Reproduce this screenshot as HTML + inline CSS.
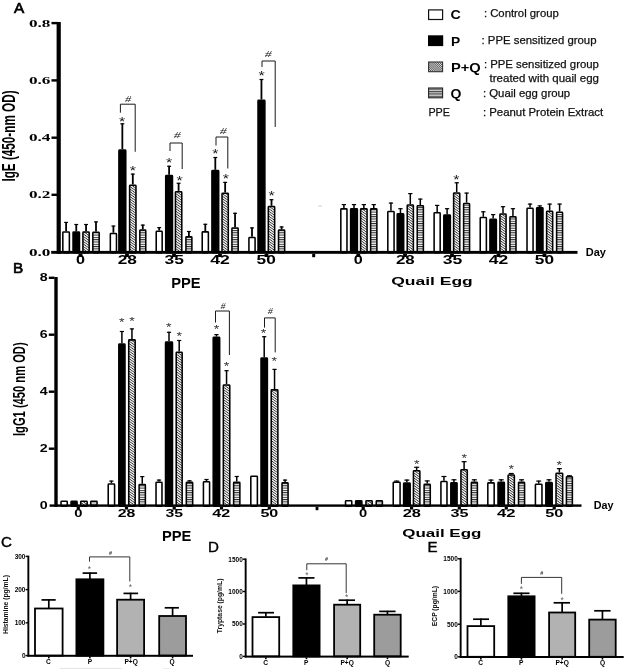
<!DOCTYPE html>
<html><head><meta charset="utf-8"><title>Figure</title>
<style>html,body{margin:0;padding:0;background:#fff}svg{display:block;filter:grayscale(1)}</style></head>
<body>
<svg width="625" height="670" viewBox="0 0 625 670">
<defs>
<pattern id="hd" patternUnits="userSpaceOnUse" width="2.05" height="2.05" patternTransform="rotate(35)">
<rect width="2.05" height="2.05" fill="#fcfcfc"/><rect width="2.05" height="0.82" fill="#303030"/></pattern>
<pattern id="hh" patternUnits="userSpaceOnUse" width="4" height="2.3">
<rect width="4" height="2.3" fill="#fcfcfc"/><rect width="4" height="1.0" fill="#2c2c2c"/></pattern>
<pattern id="hd2" patternUnits="userSpaceOnUse" width="1.5" height="1.5" patternTransform="rotate(45)">
<rect width="1.5" height="1.5" fill="#d8d8d8"/><rect width="1.5" height="0.75" fill="#555"/></pattern>
<pattern id="hh2" patternUnits="userSpaceOnUse" width="4" height="2.4" y="88.6">
<rect width="4" height="2.4" fill="#d0d0d0"/><rect width="4" height="1.1" fill="#444"/></pattern>
</defs>
<rect width="625" height="670" fill="#fff"/>

<text x="14.10" y="12.50" font-family='"Liberation Sans", sans-serif' font-size="15.3" font-weight="normal" text-anchor="start" fill="#000" stroke="#000" stroke-width="0.7">A</text>
<text x="13.00" y="273.00" font-family='"Liberation Sans", sans-serif' font-size="15.3" font-weight="normal" text-anchor="start" fill="#000" stroke="#000" stroke-width="0.7">B</text>
<text x="0.90" y="547.30" font-family='"Liberation Sans", sans-serif' font-size="15.1" font-weight="normal" text-anchor="start" fill="#000" stroke="#000" stroke-width="0.4">C</text>
<text x="207.90" y="551.60" font-family='"Liberation Sans", sans-serif' font-size="15.1" font-weight="normal" text-anchor="start" fill="#000" stroke="#000" stroke-width="0.4">D</text>
<text x="427.40" y="551.60" font-family='"Liberation Sans", sans-serif' font-size="15.1" font-weight="normal" text-anchor="start" fill="#000" stroke="#000" stroke-width="0.4">E</text>
<rect x="428.60" y="9.90" width="14.00" height="9.60" fill="#fff" stroke="#111" stroke-width="1.2"/>
<rect x="428.00" y="35.30" width="15.20" height="10.80" fill="#000"/>
<rect x="428.60" y="62.00" width="14.00" height="9.70" fill="url(#hd2)" stroke="#333" stroke-width="1.1"/>
<rect x="428.60" y="88.00" width="14.00" height="9.80" fill="url(#hh2)" stroke="#222" stroke-width="1.1"/>
<text x="450.60" y="19.30" font-family='"Liberation Sans", sans-serif' font-size="12" font-weight="bold" text-anchor="start" fill="#000" textLength="10.30" lengthAdjust="spacingAndGlyphs" >C</text>
<text x="451.00" y="45.50" font-family='"Liberation Sans", sans-serif' font-size="12" font-weight="bold" text-anchor="start" fill="#000" textLength="9.20" lengthAdjust="spacingAndGlyphs" >P</text>
<text x="451.00" y="71.70" font-family='"Liberation Sans", sans-serif' font-size="12" font-weight="bold" text-anchor="start" fill="#000" textLength="29.80" lengthAdjust="spacingAndGlyphs" >P+Q</text>
<text x="450.60" y="97.50" font-family='"Liberation Sans", sans-serif' font-size="12" font-weight="bold" text-anchor="start" fill="#000" textLength="10.90" lengthAdjust="spacingAndGlyphs" >Q</text>
<text x="428.40" y="115.80" font-family='"Liberation Sans", sans-serif' font-size="11" font-weight="normal" text-anchor="start" fill="#111" textLength="21.60" lengthAdjust="spacingAndGlyphs" stroke="#111" stroke-width="0.25">PPE</text>
<text x="483.90" y="16.80" font-family='"Liberation Sans", sans-serif' font-size="11" font-weight="normal" text-anchor="start" fill="#111" textLength="74.90" lengthAdjust="spacingAndGlyphs" stroke="#111" stroke-width="0.25">: Control group</text>
<text x="481.50" y="43.60" font-family='"Liberation Sans", sans-serif' font-size="11" font-weight="normal" text-anchor="start" fill="#111" textLength="115.00" lengthAdjust="spacingAndGlyphs" stroke="#111" stroke-width="0.25">: PPE sensitized group</text>
<text x="483.90" y="68.40" font-family='"Liberation Sans", sans-serif' font-size="11" font-weight="normal" text-anchor="start" fill="#111" textLength="115.00" lengthAdjust="spacingAndGlyphs" stroke="#111" stroke-width="0.25">: PPE sensitized group</text>
<text x="489.60" y="82.40" font-family='"Liberation Sans", sans-serif' font-size="11" font-weight="normal" text-anchor="start" fill="#111" textLength="109.40" lengthAdjust="spacingAndGlyphs" stroke="#111" stroke-width="0.25">treated with quail egg</text>
<text x="482.90" y="96.80" font-family='"Liberation Sans", sans-serif' font-size="11" font-weight="normal" text-anchor="start" fill="#111" textLength="87.30" lengthAdjust="spacingAndGlyphs" stroke="#111" stroke-width="0.25">: Quail egg group</text>
<text x="482.90" y="115.80" font-family='"Liberation Sans", sans-serif' font-size="11" font-weight="normal" text-anchor="start" fill="#111" textLength="120.30" lengthAdjust="spacingAndGlyphs" stroke="#111" stroke-width="0.25">: Peanut Protein Extract</text>
<line x1="66.10" y1="221.90" x2="66.10" y2="231.30" stroke="#000" stroke-width="1.8"/>
<line x1="64.15" y1="222.40" x2="68.05" y2="222.40" stroke="#000" stroke-width="1.2"/>
<rect x="62.83" y="232.08" width="6.55" height="20.62" rx="0.7" fill="#fff" stroke="#000" stroke-width="1.55"/>
<line x1="76.25" y1="224.00" x2="76.25" y2="231.30" stroke="#000" stroke-width="1.8"/>
<line x1="74.30" y1="224.50" x2="78.20" y2="224.50" stroke="#000" stroke-width="1.2"/>
<rect x="73.03" y="232.08" width="6.45" height="20.62" rx="0.7" fill="#000" stroke="#000" stroke-width="1.55"/>
<line x1="86.05" y1="224.00" x2="86.05" y2="231.30" stroke="#000" stroke-width="1.8"/>
<line x1="84.10" y1="224.50" x2="88.00" y2="224.50" stroke="#000" stroke-width="1.2"/>
<rect x="82.92" y="232.08" width="6.25" height="20.62" rx="0.7" fill="url(#hd)" stroke="#000" stroke-width="1.55"/>
<line x1="96.00" y1="221.40" x2="96.00" y2="231.50" stroke="#000" stroke-width="1.8"/>
<line x1="94.05" y1="221.90" x2="97.95" y2="221.90" stroke="#000" stroke-width="1.2"/>
<rect x="92.83" y="232.28" width="6.35" height="20.42" rx="0.7" fill="url(#hh)" stroke="#000" stroke-width="1.55"/>
<line x1="113.40" y1="225.60" x2="113.40" y2="232.70" stroke="#000" stroke-width="1.8"/>
<line x1="111.45" y1="226.10" x2="115.35" y2="226.10" stroke="#000" stroke-width="1.2"/>
<rect x="110.33" y="233.47" width="6.15" height="19.23" rx="0.7" fill="#fff" stroke="#000" stroke-width="1.55"/>
<line x1="122.35" y1="123.30" x2="122.35" y2="149.30" stroke="#000" stroke-width="1.8"/>
<line x1="120.40" y1="123.80" x2="124.30" y2="123.80" stroke="#000" stroke-width="1.2"/>
<rect x="118.92" y="150.08" width="6.85" height="102.62" rx="0.7" fill="#000" stroke="#000" stroke-width="1.55"/>
<line x1="132.80" y1="173.60" x2="132.80" y2="184.50" stroke="#000" stroke-width="1.8"/>
<line x1="130.85" y1="174.10" x2="134.75" y2="174.10" stroke="#000" stroke-width="1.2"/>
<rect x="129.62" y="185.28" width="6.35" height="67.42" rx="0.7" fill="url(#hd)" stroke="#000" stroke-width="1.55"/>
<line x1="142.80" y1="224.60" x2="142.80" y2="229.30" stroke="#000" stroke-width="1.8"/>
<line x1="140.85" y1="225.10" x2="144.75" y2="225.10" stroke="#000" stroke-width="1.2"/>
<rect x="139.82" y="230.08" width="5.95" height="22.62" rx="0.7" fill="url(#hh)" stroke="#000" stroke-width="1.55"/>
<line x1="159.20" y1="227.10" x2="159.20" y2="230.50" stroke="#000" stroke-width="1.8"/>
<line x1="157.25" y1="227.60" x2="161.15" y2="227.60" stroke="#000" stroke-width="1.2"/>
<rect x="156.22" y="231.28" width="5.95" height="21.42" rx="0.7" fill="#fff" stroke="#000" stroke-width="1.55"/>
<line x1="169.10" y1="165.80" x2="169.10" y2="174.70" stroke="#000" stroke-width="1.8"/>
<line x1="167.15" y1="166.30" x2="171.05" y2="166.30" stroke="#000" stroke-width="1.2"/>
<rect x="165.72" y="175.47" width="6.75" height="77.22" rx="0.7" fill="#000" stroke="#000" stroke-width="1.55"/>
<line x1="178.60" y1="182.80" x2="178.60" y2="190.90" stroke="#000" stroke-width="1.8"/>
<line x1="176.65" y1="183.30" x2="180.55" y2="183.30" stroke="#000" stroke-width="1.2"/>
<rect x="175.43" y="191.68" width="6.35" height="61.02" rx="0.7" fill="url(#hd)" stroke="#000" stroke-width="1.55"/>
<line x1="188.90" y1="231.00" x2="188.90" y2="236.00" stroke="#000" stroke-width="1.8"/>
<line x1="186.95" y1="231.50" x2="190.85" y2="231.50" stroke="#000" stroke-width="1.2"/>
<rect x="185.93" y="236.78" width="5.95" height="15.92" rx="0.7" fill="url(#hh)" stroke="#000" stroke-width="1.55"/>
<line x1="205.30" y1="223.80" x2="205.30" y2="231.10" stroke="#000" stroke-width="1.8"/>
<line x1="203.35" y1="224.30" x2="207.25" y2="224.30" stroke="#000" stroke-width="1.2"/>
<rect x="202.22" y="231.88" width="6.15" height="20.82" rx="0.7" fill="#fff" stroke="#000" stroke-width="1.55"/>
<line x1="215.30" y1="157.00" x2="215.30" y2="169.80" stroke="#000" stroke-width="1.8"/>
<line x1="213.35" y1="157.50" x2="217.25" y2="157.50" stroke="#000" stroke-width="1.2"/>
<rect x="211.93" y="170.58" width="6.75" height="82.12" rx="0.7" fill="#000" stroke="#000" stroke-width="1.55"/>
<line x1="225.15" y1="181.90" x2="225.15" y2="192.50" stroke="#000" stroke-width="1.8"/>
<line x1="223.20" y1="182.40" x2="227.10" y2="182.40" stroke="#000" stroke-width="1.2"/>
<rect x="222.03" y="193.28" width="6.25" height="59.42" rx="0.7" fill="url(#hd)" stroke="#000" stroke-width="1.55"/>
<line x1="235.05" y1="212.80" x2="235.05" y2="227.30" stroke="#000" stroke-width="1.8"/>
<line x1="233.10" y1="213.30" x2="237.00" y2="213.30" stroke="#000" stroke-width="1.2"/>
<rect x="231.93" y="228.08" width="6.25" height="24.62" rx="0.7" fill="url(#hh)" stroke="#000" stroke-width="1.55"/>
<line x1="252.00" y1="227.40" x2="252.00" y2="236.80" stroke="#000" stroke-width="1.8"/>
<line x1="250.05" y1="227.90" x2="253.95" y2="227.90" stroke="#000" stroke-width="1.2"/>
<rect x="248.93" y="237.58" width="6.15" height="15.12" rx="0.7" fill="#fff" stroke="#000" stroke-width="1.55"/>
<line x1="261.45" y1="79.00" x2="261.45" y2="99.50" stroke="#000" stroke-width="1.8"/>
<line x1="259.50" y1="79.50" x2="263.40" y2="79.50" stroke="#000" stroke-width="1.2"/>
<rect x="258.02" y="100.28" width="6.85" height="152.42" rx="0.7" fill="#000" stroke="#000" stroke-width="1.55"/>
<line x1="271.50" y1="199.20" x2="271.50" y2="205.80" stroke="#000" stroke-width="1.8"/>
<line x1="269.55" y1="199.70" x2="273.45" y2="199.70" stroke="#000" stroke-width="1.2"/>
<rect x="268.32" y="206.58" width="6.35" height="46.12" rx="0.7" fill="url(#hd)" stroke="#000" stroke-width="1.55"/>
<line x1="281.60" y1="226.40" x2="281.60" y2="229.30" stroke="#000" stroke-width="1.8"/>
<line x1="279.65" y1="226.90" x2="283.55" y2="226.90" stroke="#000" stroke-width="1.2"/>
<rect x="278.52" y="230.08" width="6.15" height="22.62" rx="0.7" fill="url(#hh)" stroke="#000" stroke-width="1.55"/>
<line x1="343.90" y1="204.10" x2="343.90" y2="208.10" stroke="#000" stroke-width="1.5"/>
<line x1="341.75" y1="204.60" x2="346.05" y2="204.60" stroke="#000" stroke-width="1.2"/>
<rect x="340.82" y="208.88" width="6.15" height="43.82" rx="0.7" fill="#fff" stroke="#000" stroke-width="1.55"/>
<line x1="354.00" y1="204.10" x2="354.00" y2="208.10" stroke="#000" stroke-width="1.5"/>
<line x1="351.85" y1="204.60" x2="356.15" y2="204.60" stroke="#000" stroke-width="1.2"/>
<rect x="350.62" y="208.88" width="6.75" height="43.82" rx="0.7" fill="#000" stroke="#000" stroke-width="1.55"/>
<line x1="363.85" y1="204.10" x2="363.85" y2="208.10" stroke="#000" stroke-width="1.5"/>
<line x1="361.70" y1="204.60" x2="366.00" y2="204.60" stroke="#000" stroke-width="1.2"/>
<rect x="360.62" y="208.88" width="6.45" height="43.82" rx="0.7" fill="url(#hd)" stroke="#000" stroke-width="1.55"/>
<line x1="373.75" y1="204.10" x2="373.75" y2="208.10" stroke="#000" stroke-width="1.5"/>
<line x1="371.60" y1="204.60" x2="375.90" y2="204.60" stroke="#000" stroke-width="1.2"/>
<rect x="370.62" y="208.88" width="6.25" height="43.82" rx="0.7" fill="url(#hh)" stroke="#000" stroke-width="1.55"/>
<line x1="390.95" y1="202.60" x2="390.95" y2="210.70" stroke="#000" stroke-width="1.5"/>
<line x1="388.80" y1="203.10" x2="393.10" y2="203.10" stroke="#000" stroke-width="1.2"/>
<rect x="387.82" y="211.47" width="6.25" height="41.23" rx="0.7" fill="#fff" stroke="#000" stroke-width="1.55"/>
<line x1="400.45" y1="208.20" x2="400.45" y2="213.00" stroke="#000" stroke-width="1.5"/>
<line x1="398.30" y1="208.70" x2="402.60" y2="208.70" stroke="#000" stroke-width="1.2"/>
<rect x="397.23" y="213.78" width="6.45" height="38.92" rx="0.7" fill="#000" stroke="#000" stroke-width="1.55"/>
<line x1="410.30" y1="193.10" x2="410.30" y2="204.30" stroke="#000" stroke-width="1.5"/>
<line x1="408.15" y1="193.60" x2="412.45" y2="193.60" stroke="#000" stroke-width="1.2"/>
<rect x="407.23" y="205.08" width="6.15" height="47.62" rx="0.7" fill="url(#hd)" stroke="#000" stroke-width="1.55"/>
<line x1="420.30" y1="198.60" x2="420.30" y2="205.00" stroke="#000" stroke-width="1.5"/>
<line x1="418.15" y1="199.10" x2="422.45" y2="199.10" stroke="#000" stroke-width="1.2"/>
<rect x="417.23" y="205.78" width="6.15" height="46.92" rx="0.7" fill="url(#hh)" stroke="#000" stroke-width="1.55"/>
<line x1="437.15" y1="204.90" x2="437.15" y2="211.90" stroke="#000" stroke-width="1.5"/>
<line x1="435.00" y1="205.40" x2="439.30" y2="205.40" stroke="#000" stroke-width="1.2"/>
<rect x="434.12" y="212.68" width="6.05" height="40.02" rx="0.7" fill="#fff" stroke="#000" stroke-width="1.55"/>
<line x1="447.10" y1="208.20" x2="447.10" y2="214.20" stroke="#000" stroke-width="1.5"/>
<line x1="444.95" y1="208.70" x2="449.25" y2="208.70" stroke="#000" stroke-width="1.2"/>
<rect x="443.82" y="214.97" width="6.55" height="37.73" rx="0.7" fill="#000" stroke="#000" stroke-width="1.55"/>
<line x1="456.70" y1="182.30" x2="456.70" y2="192.20" stroke="#000" stroke-width="1.5"/>
<line x1="454.55" y1="182.80" x2="458.85" y2="182.80" stroke="#000" stroke-width="1.2"/>
<rect x="453.62" y="192.97" width="6.15" height="59.73" rx="0.7" fill="url(#hd)" stroke="#000" stroke-width="1.55"/>
<line x1="466.60" y1="192.60" x2="466.60" y2="202.70" stroke="#000" stroke-width="1.5"/>
<line x1="464.45" y1="193.10" x2="468.75" y2="193.10" stroke="#000" stroke-width="1.2"/>
<rect x="463.62" y="203.47" width="5.95" height="49.23" rx="0.7" fill="url(#hh)" stroke="#000" stroke-width="1.55"/>
<line x1="483.30" y1="211.30" x2="483.30" y2="216.80" stroke="#000" stroke-width="1.5"/>
<line x1="481.15" y1="211.80" x2="485.45" y2="211.80" stroke="#000" stroke-width="1.2"/>
<rect x="480.23" y="217.58" width="6.15" height="35.12" rx="0.7" fill="#fff" stroke="#000" stroke-width="1.55"/>
<line x1="493.15" y1="214.10" x2="493.15" y2="218.50" stroke="#000" stroke-width="1.5"/>
<line x1="491.00" y1="214.60" x2="495.30" y2="214.60" stroke="#000" stroke-width="1.2"/>
<rect x="489.93" y="219.28" width="6.45" height="33.42" rx="0.7" fill="#000" stroke="#000" stroke-width="1.55"/>
<line x1="503.00" y1="206.20" x2="503.00" y2="213.20" stroke="#000" stroke-width="1.5"/>
<line x1="500.85" y1="206.70" x2="505.15" y2="206.70" stroke="#000" stroke-width="1.2"/>
<rect x="499.93" y="213.97" width="6.15" height="38.73" rx="0.7" fill="url(#hd)" stroke="#000" stroke-width="1.55"/>
<line x1="512.95" y1="208.20" x2="512.95" y2="216.00" stroke="#000" stroke-width="1.5"/>
<line x1="510.80" y1="208.70" x2="515.10" y2="208.70" stroke="#000" stroke-width="1.2"/>
<rect x="509.93" y="216.78" width="6.05" height="35.92" rx="0.7" fill="url(#hh)" stroke="#000" stroke-width="1.55"/>
<line x1="530.05" y1="203.60" x2="530.05" y2="207.50" stroke="#000" stroke-width="1.5"/>
<line x1="527.90" y1="204.10" x2="532.20" y2="204.10" stroke="#000" stroke-width="1.2"/>
<rect x="527.02" y="208.28" width="6.05" height="44.42" rx="0.7" fill="#fff" stroke="#000" stroke-width="1.55"/>
<line x1="539.80" y1="205.40" x2="539.80" y2="207.10" stroke="#000" stroke-width="1.5"/>
<line x1="537.65" y1="205.90" x2="541.95" y2="205.90" stroke="#000" stroke-width="1.2"/>
<rect x="536.62" y="207.88" width="6.35" height="44.82" rx="0.7" fill="#000" stroke="#000" stroke-width="1.55"/>
<line x1="549.65" y1="203.60" x2="549.65" y2="210.50" stroke="#000" stroke-width="1.5"/>
<line x1="547.50" y1="204.10" x2="551.80" y2="204.10" stroke="#000" stroke-width="1.2"/>
<rect x="546.62" y="211.28" width="6.05" height="41.42" rx="0.7" fill="url(#hd)" stroke="#000" stroke-width="1.55"/>
<line x1="559.60" y1="203.60" x2="559.60" y2="211.50" stroke="#000" stroke-width="1.5"/>
<line x1="557.45" y1="204.10" x2="561.75" y2="204.10" stroke="#000" stroke-width="1.2"/>
<rect x="556.62" y="212.28" width="5.95" height="40.42" rx="0.7" fill="url(#hh)" stroke="#000" stroke-width="1.55"/>
<rect x="56.60" y="22.00" width="4.20" height="231.80" fill="#000"/>
<rect x="51.20" y="250.90" width="526.30" height="2.90" fill="#000"/>
<rect x="51.50" y="21.90" width="6.00" height="2.40" fill="#000"/>
<rect x="51.50" y="79.20" width="6.00" height="2.40" fill="#000"/>
<rect x="51.50" y="136.50" width="6.00" height="2.40" fill="#000"/>
<rect x="51.50" y="193.60" width="6.00" height="2.40" fill="#000"/>
<text x="28.90" y="26.70" font-family='"Liberation Serif", serif' font-size="11" font-weight="bold" text-anchor="start" fill="#000" textLength="21.50" lengthAdjust="spacingAndGlyphs" >0.8</text>
<text x="28.90" y="84.00" font-family='"Liberation Serif", serif' font-size="11" font-weight="bold" text-anchor="start" fill="#000" textLength="21.50" lengthAdjust="spacingAndGlyphs" >0.6</text>
<text x="28.90" y="141.30" font-family='"Liberation Serif", serif' font-size="11" font-weight="bold" text-anchor="start" fill="#000" textLength="21.50" lengthAdjust="spacingAndGlyphs" >0.4</text>
<text x="28.90" y="198.40" font-family='"Liberation Serif", serif' font-size="11" font-weight="bold" text-anchor="start" fill="#000" textLength="21.50" lengthAdjust="spacingAndGlyphs" >0.2</text>
<text x="28.90" y="255.60" font-family='"Liberation Serif", serif' font-size="11" font-weight="bold" text-anchor="start" fill="#000" textLength="21.50" lengthAdjust="spacingAndGlyphs" >0.0</text>
<rect x="78.60" y="253.50" width="3.80" height="3.50" fill="#000"/>
<rect x="125.10" y="253.50" width="3.80" height="3.50" fill="#000"/>
<rect x="172.10" y="253.50" width="3.80" height="3.50" fill="#000"/>
<rect x="218.10" y="253.50" width="3.80" height="3.50" fill="#000"/>
<rect x="264.60" y="253.50" width="3.80" height="3.50" fill="#000"/>
<rect x="356.40" y="253.50" width="3.80" height="3.50" fill="#000"/>
<rect x="403.10" y="253.50" width="3.80" height="3.50" fill="#000"/>
<rect x="450.10" y="253.50" width="3.80" height="3.50" fill="#000"/>
<rect x="496.60" y="253.50" width="3.80" height="3.50" fill="#000"/>
<rect x="542.60" y="253.50" width="3.80" height="3.50" fill="#000"/>
<rect x="312.20" y="253.80" width="3.00" height="3.40" fill="#000"/>
<text x="76.10" y="264.30" font-family='"Liberation Sans", sans-serif' font-size="11.9" font-weight="bold" text-anchor="start" fill="#000" textLength="9.00" lengthAdjust="spacingAndGlyphs" >0</text>
<text x="117.70" y="264.30" font-family='"Liberation Sans", sans-serif' font-size="11.9" font-weight="bold" text-anchor="start" fill="#000" textLength="19.20" lengthAdjust="spacingAndGlyphs" >28</text>
<text x="164.50" y="264.30" font-family='"Liberation Sans", sans-serif' font-size="11.9" font-weight="bold" text-anchor="start" fill="#000" textLength="19.40" lengthAdjust="spacingAndGlyphs" >35</text>
<text x="210.20" y="264.30" font-family='"Liberation Sans", sans-serif' font-size="11.9" font-weight="bold" text-anchor="start" fill="#000" textLength="19.60" lengthAdjust="spacingAndGlyphs" >42</text>
<text x="256.60" y="264.30" font-family='"Liberation Sans", sans-serif' font-size="11.9" font-weight="bold" text-anchor="start" fill="#000" textLength="19.20" lengthAdjust="spacingAndGlyphs" >50</text>
<text x="353.80" y="264.30" font-family='"Liberation Sans", sans-serif' font-size="11.9" font-weight="bold" text-anchor="start" fill="#000" textLength="9.00" lengthAdjust="spacingAndGlyphs" >0</text>
<text x="395.90" y="264.30" font-family='"Liberation Sans", sans-serif' font-size="11.9" font-weight="bold" text-anchor="start" fill="#000" textLength="18.80" lengthAdjust="spacingAndGlyphs" >28</text>
<text x="442.70" y="264.30" font-family='"Liberation Sans", sans-serif' font-size="11.9" font-weight="bold" text-anchor="start" fill="#000" textLength="19.60" lengthAdjust="spacingAndGlyphs" >35</text>
<text x="488.80" y="264.30" font-family='"Liberation Sans", sans-serif' font-size="11.9" font-weight="bold" text-anchor="start" fill="#000" textLength="19.40" lengthAdjust="spacingAndGlyphs" >42</text>
<text x="534.80" y="264.30" font-family='"Liberation Sans", sans-serif' font-size="11.9" font-weight="bold" text-anchor="start" fill="#000" textLength="19.20" lengthAdjust="spacingAndGlyphs" >50</text>
<text x="171.20" y="288.30" font-family='"Liberation Sans", sans-serif' font-size="14.2" font-weight="bold" text-anchor="start" fill="#000" textLength="29.40" lengthAdjust="spacingAndGlyphs" >PPE</text>
<text x="391.20" y="285.00" font-family='"Liberation Sans", sans-serif' font-size="11.8" font-weight="bold" text-anchor="start" fill="#000" textLength="81.60" lengthAdjust="spacingAndGlyphs" >Quail Egg</text>
<text x="585.80" y="255.80" font-family='"Liberation Sans", sans-serif' font-size="10.8" font-weight="bold" text-anchor="start" fill="#000" textLength="20.20" lengthAdjust="spacingAndGlyphs" >Day</text>
<text transform="translate(14.90,181.60) rotate(-90)" font-family='"Liberation Sans", sans-serif' font-size="17.5" font-weight="bold" fill="#000" textLength="91.20" lengthAdjust="spacingAndGlyphs">IgE (450-nm OD)</text>
<text transform="translate(122.20,118.90) scale(1.14,0.88)" y="0.53" font-family='"Liberation Sans", sans-serif' font-size="14" text-anchor="middle" fill="#1a1a1a" dy="7.00">*</text>
<text transform="translate(132.80,168.10) scale(1.14,0.88)" y="0.53" font-family='"Liberation Sans", sans-serif' font-size="14" text-anchor="middle" fill="#1a1a1a" dy="7.00">*</text>
<polyline points="120.40,112.70 120.40,104.20 135.20,104.20 135.20,151.80" fill="none" stroke="#1a1a1a" stroke-width="1.0"/>
<text transform="translate(128.00,102.17) scale(1.5,1)" font-family='"Liberation Serif", serif' font-size="8.2" font-style="italic" text-anchor="middle" fill="#1a1a1a">#</text>
<text transform="translate(169.20,160.50) scale(1.14,0.88)" y="0.53" font-family='"Liberation Sans", sans-serif' font-size="14" text-anchor="middle" fill="#1a1a1a" dy="7.00">*</text>
<text transform="translate(179.60,177.90) scale(1.14,0.88)" y="0.53" font-family='"Liberation Sans", sans-serif' font-size="14" text-anchor="middle" fill="#1a1a1a" dy="7.00">*</text>
<polyline points="170.00,151.00 170.00,143.00 182.20,143.00 182.20,169.00" fill="none" stroke="#1a1a1a" stroke-width="1.0"/>
<text transform="translate(177.20,138.29) scale(1.5,1)" font-family='"Liberation Serif", serif' font-size="9.2" font-style="italic" text-anchor="middle" fill="#1a1a1a">#</text>
<text transform="translate(215.40,151.10) scale(1.14,0.88)" y="0.53" font-family='"Liberation Sans", sans-serif' font-size="14" text-anchor="middle" fill="#1a1a1a" dy="7.00">*</text>
<text transform="translate(225.80,176.70) scale(1.14,0.88)" y="0.53" font-family='"Liberation Sans", sans-serif' font-size="14" text-anchor="middle" fill="#1a1a1a" dy="7.00">*</text>
<polyline points="216.00,145.50 216.00,137.00 227.80,137.00 227.80,168.50" fill="none" stroke="#1a1a1a" stroke-width="1.0"/>
<text transform="translate(223.20,134.49) scale(1.5,1)" font-family='"Liberation Serif", serif' font-size="9.2" font-style="italic" text-anchor="middle" fill="#1a1a1a">#</text>
<text transform="translate(261.60,73.30) scale(1.14,0.88)" y="0.53" font-family='"Liberation Sans", sans-serif' font-size="14" text-anchor="middle" fill="#1a1a1a" dy="7.00">*</text>
<text transform="translate(271.50,193.10) scale(1.14,0.88)" y="0.53" font-family='"Liberation Sans", sans-serif' font-size="14" text-anchor="middle" fill="#1a1a1a" dy="7.00">*</text>
<polyline points="262.00,67.00 262.00,61.00 275.20,61.00 275.20,127.00" fill="none" stroke="#1a1a1a" stroke-width="1.0"/>
<text transform="translate(268.30,56.89) scale(1.5,1)" font-family='"Liberation Serif", serif' font-size="9.2" font-style="italic" text-anchor="middle" fill="#1a1a1a">#</text>
<text transform="translate(456.40,177.50) scale(1.14,0.88)" y="0.53" font-family='"Liberation Sans", sans-serif' font-size="14" text-anchor="middle" fill="#1a1a1a" dy="7.00">*</text>
<rect x="318.50" y="205.60" width="3.50" height="0.80" fill="#bbb"/>
<rect x="61.02" y="501.27" width="6.25" height="5.03" rx="0.7" fill="#fff" stroke="#000" stroke-width="1.55"/>
<rect x="71.03" y="501.27" width="6.05" height="5.03" rx="0.7" fill="#000" stroke="#000" stroke-width="1.55"/>
<rect x="80.72" y="501.27" width="6.45" height="5.03" rx="0.7" fill="url(#hd)" stroke="#000" stroke-width="1.55"/>
<rect x="90.72" y="501.27" width="6.35" height="5.03" rx="0.7" fill="url(#hh)" stroke="#000" stroke-width="1.55"/>
<line x1="111.40" y1="480.60" x2="111.40" y2="483.20" stroke="#000" stroke-width="1.5"/>
<line x1="109.30" y1="481.10" x2="113.50" y2="481.10" stroke="#000" stroke-width="1.2"/>
<rect x="108.22" y="483.97" width="6.35" height="22.33" rx="0.7" fill="#fff" stroke="#000" stroke-width="1.55"/>
<line x1="121.90" y1="331.00" x2="121.90" y2="343.20" stroke="#000" stroke-width="1.5"/>
<line x1="119.80" y1="331.50" x2="124.00" y2="331.50" stroke="#000" stroke-width="1.2"/>
<rect x="118.83" y="343.97" width="6.15" height="162.33" rx="0.7" fill="#000" stroke="#000" stroke-width="1.55"/>
<line x1="131.95" y1="328.40" x2="131.95" y2="339.10" stroke="#000" stroke-width="1.5"/>
<line x1="129.85" y1="328.90" x2="134.05" y2="328.90" stroke="#000" stroke-width="1.2"/>
<rect x="128.72" y="339.88" width="6.45" height="166.42" rx="0.7" fill="url(#hd)" stroke="#000" stroke-width="1.55"/>
<line x1="142.25" y1="476.10" x2="142.25" y2="483.70" stroke="#000" stroke-width="1.5"/>
<line x1="140.15" y1="476.60" x2="144.35" y2="476.60" stroke="#000" stroke-width="1.2"/>
<rect x="139.12" y="484.47" width="6.25" height="21.83" rx="0.7" fill="url(#hh)" stroke="#000" stroke-width="1.55"/>
<line x1="159.00" y1="479.60" x2="159.00" y2="481.50" stroke="#000" stroke-width="1.5"/>
<line x1="156.90" y1="480.10" x2="161.10" y2="480.10" stroke="#000" stroke-width="1.2"/>
<rect x="156.03" y="482.27" width="5.95" height="24.03" rx="0.7" fill="#fff" stroke="#000" stroke-width="1.55"/>
<line x1="169.00" y1="331.80" x2="169.00" y2="341.20" stroke="#000" stroke-width="1.5"/>
<line x1="166.90" y1="332.30" x2="171.10" y2="332.30" stroke="#000" stroke-width="1.2"/>
<rect x="165.53" y="341.97" width="6.95" height="164.33" rx="0.7" fill="#000" stroke="#000" stroke-width="1.55"/>
<line x1="179.20" y1="340.00" x2="179.20" y2="351.40" stroke="#000" stroke-width="1.5"/>
<line x1="177.10" y1="340.50" x2="181.30" y2="340.50" stroke="#000" stroke-width="1.2"/>
<rect x="176.22" y="352.17" width="5.95" height="154.13" rx="0.7" fill="url(#hd)" stroke="#000" stroke-width="1.55"/>
<line x1="189.50" y1="480.30" x2="189.50" y2="481.50" stroke="#000" stroke-width="1.5"/>
<line x1="187.40" y1="480.80" x2="191.60" y2="480.80" stroke="#000" stroke-width="1.2"/>
<rect x="186.32" y="482.27" width="6.35" height="24.03" rx="0.7" fill="url(#hh)" stroke="#000" stroke-width="1.55"/>
<line x1="206.50" y1="479.00" x2="206.50" y2="481.00" stroke="#000" stroke-width="1.5"/>
<line x1="204.40" y1="479.50" x2="208.60" y2="479.50" stroke="#000" stroke-width="1.2"/>
<rect x="203.43" y="481.77" width="6.15" height="24.53" rx="0.7" fill="#fff" stroke="#000" stroke-width="1.55"/>
<line x1="216.45" y1="334.10" x2="216.45" y2="336.50" stroke="#000" stroke-width="1.5"/>
<line x1="214.35" y1="334.60" x2="218.55" y2="334.60" stroke="#000" stroke-width="1.2"/>
<rect x="213.22" y="337.27" width="6.45" height="169.03" rx="0.7" fill="#000" stroke="#000" stroke-width="1.55"/>
<line x1="226.55" y1="370.20" x2="226.55" y2="384.20" stroke="#000" stroke-width="1.5"/>
<line x1="224.45" y1="370.70" x2="228.65" y2="370.70" stroke="#000" stroke-width="1.2"/>
<rect x="223.32" y="384.97" width="6.45" height="121.33" rx="0.7" fill="url(#hd)" stroke="#000" stroke-width="1.55"/>
<line x1="236.75" y1="476.00" x2="236.75" y2="481.50" stroke="#000" stroke-width="1.5"/>
<line x1="234.65" y1="476.50" x2="238.85" y2="476.50" stroke="#000" stroke-width="1.2"/>
<rect x="233.62" y="482.27" width="6.25" height="24.03" rx="0.7" fill="url(#hh)" stroke="#000" stroke-width="1.55"/>
<rect x="250.82" y="476.27" width="6.55" height="30.03" rx="0.7" fill="#fff" stroke="#000" stroke-width="1.55"/>
<line x1="264.20" y1="336.20" x2="264.20" y2="357.30" stroke="#000" stroke-width="1.5"/>
<line x1="262.10" y1="336.70" x2="266.30" y2="336.70" stroke="#000" stroke-width="1.2"/>
<rect x="261.02" y="358.07" width="6.35" height="148.22" rx="0.7" fill="#000" stroke="#000" stroke-width="1.55"/>
<line x1="274.55" y1="368.90" x2="274.55" y2="389.10" stroke="#000" stroke-width="1.5"/>
<line x1="272.45" y1="369.40" x2="276.65" y2="369.40" stroke="#000" stroke-width="1.2"/>
<rect x="271.23" y="389.88" width="6.65" height="116.42" rx="0.7" fill="url(#hd)" stroke="#000" stroke-width="1.55"/>
<line x1="285.05" y1="479.60" x2="285.05" y2="482.00" stroke="#000" stroke-width="1.5"/>
<line x1="282.95" y1="480.10" x2="287.15" y2="480.10" stroke="#000" stroke-width="1.2"/>
<rect x="282.02" y="482.77" width="6.05" height="23.53" rx="0.7" fill="url(#hh)" stroke="#000" stroke-width="1.55"/>
<rect x="345.52" y="500.77" width="6.25" height="5.53" rx="0.7" fill="#fff" stroke="#000" stroke-width="1.55"/>
<rect x="355.62" y="500.77" width="6.25" height="5.53" rx="0.7" fill="#000" stroke="#000" stroke-width="1.55"/>
<rect x="365.93" y="500.77" width="6.25" height="5.53" rx="0.7" fill="url(#hd)" stroke="#000" stroke-width="1.55"/>
<rect x="376.23" y="500.77" width="6.15" height="5.53" rx="0.7" fill="url(#hh)" stroke="#000" stroke-width="1.55"/>
<line x1="396.65" y1="480.60" x2="396.65" y2="481.50" stroke="#000" stroke-width="1.5"/>
<line x1="394.15" y1="481.10" x2="399.15" y2="481.10" stroke="#000" stroke-width="1.2"/>
<rect x="393.23" y="482.27" width="6.85" height="24.03" rx="0.7" fill="#fff" stroke="#000" stroke-width="1.55"/>
<line x1="406.90" y1="479.60" x2="406.90" y2="482.30" stroke="#000" stroke-width="1.5"/>
<line x1="404.40" y1="480.10" x2="409.40" y2="480.10" stroke="#000" stroke-width="1.2"/>
<rect x="403.62" y="483.07" width="6.55" height="23.23" rx="0.7" fill="#000" stroke="#000" stroke-width="1.55"/>
<line x1="416.65" y1="466.80" x2="416.65" y2="470.00" stroke="#000" stroke-width="1.5"/>
<line x1="414.15" y1="467.30" x2="419.15" y2="467.30" stroke="#000" stroke-width="1.2"/>
<rect x="413.43" y="470.77" width="6.45" height="35.53" rx="0.7" fill="url(#hd)" stroke="#000" stroke-width="1.55"/>
<line x1="427.20" y1="480.40" x2="427.20" y2="483.50" stroke="#000" stroke-width="1.5"/>
<line x1="424.70" y1="480.90" x2="429.70" y2="480.90" stroke="#000" stroke-width="1.2"/>
<rect x="424.12" y="484.27" width="6.15" height="22.03" rx="0.7" fill="url(#hh)" stroke="#000" stroke-width="1.55"/>
<line x1="443.95" y1="476.00" x2="443.95" y2="480.80" stroke="#000" stroke-width="1.5"/>
<line x1="441.45" y1="476.50" x2="446.45" y2="476.50" stroke="#000" stroke-width="1.2"/>
<rect x="440.93" y="481.57" width="6.05" height="24.73" rx="0.7" fill="#fff" stroke="#000" stroke-width="1.55"/>
<line x1="453.95" y1="479.30" x2="453.95" y2="482.10" stroke="#000" stroke-width="1.5"/>
<line x1="451.45" y1="479.80" x2="456.45" y2="479.80" stroke="#000" stroke-width="1.2"/>
<rect x="450.82" y="482.88" width="6.25" height="23.42" rx="0.7" fill="#000" stroke="#000" stroke-width="1.55"/>
<line x1="464.10" y1="461.20" x2="464.10" y2="469.00" stroke="#000" stroke-width="1.5"/>
<line x1="461.60" y1="461.70" x2="466.60" y2="461.70" stroke="#000" stroke-width="1.2"/>
<rect x="460.93" y="469.77" width="6.35" height="36.53" rx="0.7" fill="url(#hd)" stroke="#000" stroke-width="1.55"/>
<line x1="474.35" y1="479.30" x2="474.35" y2="481.50" stroke="#000" stroke-width="1.5"/>
<line x1="471.85" y1="479.80" x2="476.85" y2="479.80" stroke="#000" stroke-width="1.2"/>
<rect x="471.32" y="482.27" width="6.05" height="24.03" rx="0.7" fill="url(#hh)" stroke="#000" stroke-width="1.55"/>
<line x1="491.00" y1="479.60" x2="491.00" y2="482.10" stroke="#000" stroke-width="1.5"/>
<line x1="488.50" y1="480.10" x2="493.50" y2="480.10" stroke="#000" stroke-width="1.2"/>
<rect x="487.82" y="482.88" width="6.35" height="23.42" rx="0.7" fill="#fff" stroke="#000" stroke-width="1.55"/>
<line x1="501.20" y1="479.30" x2="501.20" y2="481.50" stroke="#000" stroke-width="1.5"/>
<line x1="498.70" y1="479.80" x2="503.70" y2="479.80" stroke="#000" stroke-width="1.2"/>
<rect x="498.02" y="482.27" width="6.35" height="24.03" rx="0.7" fill="#000" stroke="#000" stroke-width="1.55"/>
<line x1="511.25" y1="473.00" x2="511.25" y2="474.30" stroke="#000" stroke-width="1.5"/>
<line x1="508.75" y1="473.50" x2="513.75" y2="473.50" stroke="#000" stroke-width="1.2"/>
<rect x="508.12" y="475.07" width="6.25" height="31.23" rx="0.7" fill="url(#hd)" stroke="#000" stroke-width="1.55"/>
<line x1="521.55" y1="479.30" x2="521.55" y2="481.50" stroke="#000" stroke-width="1.5"/>
<line x1="519.05" y1="479.80" x2="524.05" y2="479.80" stroke="#000" stroke-width="1.2"/>
<rect x="518.52" y="482.27" width="6.05" height="24.03" rx="0.7" fill="url(#hh)" stroke="#000" stroke-width="1.55"/>
<line x1="538.70" y1="480.60" x2="538.70" y2="483.50" stroke="#000" stroke-width="1.5"/>
<line x1="536.20" y1="481.10" x2="541.20" y2="481.10" stroke="#000" stroke-width="1.2"/>
<rect x="535.42" y="484.27" width="6.55" height="22.03" rx="0.7" fill="#fff" stroke="#000" stroke-width="1.55"/>
<line x1="549.00" y1="479.30" x2="549.00" y2="481.80" stroke="#000" stroke-width="1.5"/>
<line x1="546.50" y1="479.80" x2="551.50" y2="479.80" stroke="#000" stroke-width="1.2"/>
<rect x="545.83" y="482.57" width="6.35" height="23.73" rx="0.7" fill="#000" stroke="#000" stroke-width="1.55"/>
<line x1="559.35" y1="468.10" x2="559.35" y2="472.50" stroke="#000" stroke-width="1.5"/>
<line x1="556.85" y1="468.60" x2="561.85" y2="468.60" stroke="#000" stroke-width="1.2"/>
<rect x="556.02" y="473.27" width="6.65" height="33.03" rx="0.7" fill="url(#hd)" stroke="#000" stroke-width="1.55"/>
<line x1="569.40" y1="475.30" x2="569.40" y2="475.90" stroke="#000" stroke-width="1.5"/>
<line x1="566.90" y1="475.80" x2="571.90" y2="475.80" stroke="#000" stroke-width="1.2"/>
<rect x="566.42" y="476.67" width="5.95" height="29.63" rx="0.7" fill="url(#hh)" stroke="#000" stroke-width="1.55"/>
<rect x="54.30" y="277.00" width="3.40" height="229.80" fill="#000"/>
<rect x="49.60" y="504.40" width="531.90" height="2.40" fill="#000"/>
<rect x="48.80" y="276.60" width="5.70" height="2.40" fill="#000"/>
<rect x="48.80" y="333.50" width="5.70" height="2.40" fill="#000"/>
<rect x="48.80" y="390.50" width="5.70" height="2.40" fill="#000"/>
<rect x="48.80" y="447.50" width="5.70" height="2.40" fill="#000"/>
<text x="39.70" y="281.40" font-family='"Liberation Sans", sans-serif' font-size="10" font-weight="bold" text-anchor="start" fill="#000" textLength="7.90" lengthAdjust="spacingAndGlyphs" >8</text>
<text x="39.70" y="338.30" font-family='"Liberation Sans", sans-serif' font-size="10" font-weight="bold" text-anchor="start" fill="#000" textLength="7.90" lengthAdjust="spacingAndGlyphs" >6</text>
<text x="39.70" y="395.30" font-family='"Liberation Sans", sans-serif' font-size="10" font-weight="bold" text-anchor="start" fill="#000" textLength="7.90" lengthAdjust="spacingAndGlyphs" >4</text>
<text x="39.70" y="452.30" font-family='"Liberation Sans", sans-serif' font-size="10" font-weight="bold" text-anchor="start" fill="#000" textLength="7.90" lengthAdjust="spacingAndGlyphs" >2</text>
<text x="39.70" y="509.20" font-family='"Liberation Sans", sans-serif' font-size="10" font-weight="bold" text-anchor="start" fill="#000" textLength="7.90" lengthAdjust="spacingAndGlyphs" >0</text>
<rect x="76.70" y="506.50" width="3.20" height="3.10" fill="#000"/>
<rect x="124.90" y="506.50" width="3.20" height="3.10" fill="#000"/>
<rect x="172.60" y="506.50" width="3.20" height="3.10" fill="#000"/>
<rect x="219.90" y="506.50" width="3.20" height="3.10" fill="#000"/>
<rect x="267.70" y="506.50" width="3.20" height="3.10" fill="#000"/>
<rect x="361.60" y="506.50" width="3.20" height="3.10" fill="#000"/>
<rect x="410.00" y="506.50" width="3.20" height="3.10" fill="#000"/>
<rect x="457.70" y="506.50" width="3.20" height="3.10" fill="#000"/>
<rect x="504.70" y="506.50" width="3.20" height="3.10" fill="#000"/>
<rect x="552.60" y="506.50" width="3.20" height="3.10" fill="#000"/>
<rect x="315.60" y="506.90" width="2.80" height="3.30" fill="#000"/>
<text x="74.20" y="517.40" font-family='"Liberation Sans", sans-serif' font-size="10.2" font-weight="bold" text-anchor="start" fill="#000" textLength="8.20" lengthAdjust="spacingAndGlyphs" >0</text>
<text x="117.70" y="517.40" font-family='"Liberation Sans", sans-serif' font-size="10.2" font-weight="bold" text-anchor="start" fill="#000" textLength="17.60" lengthAdjust="spacingAndGlyphs" >28</text>
<text x="165.50" y="517.40" font-family='"Liberation Sans", sans-serif' font-size="10.2" font-weight="bold" text-anchor="start" fill="#000" textLength="17.60" lengthAdjust="spacingAndGlyphs" >35</text>
<text x="212.35" y="517.40" font-family='"Liberation Sans", sans-serif' font-size="10.2" font-weight="bold" text-anchor="start" fill="#000" textLength="17.90" lengthAdjust="spacingAndGlyphs" >42</text>
<text x="260.45" y="517.40" font-family='"Liberation Sans", sans-serif' font-size="10.2" font-weight="bold" text-anchor="start" fill="#000" textLength="17.90" lengthAdjust="spacingAndGlyphs" >50</text>
<text x="358.90" y="517.40" font-family='"Liberation Sans", sans-serif' font-size="10.2" font-weight="bold" text-anchor="start" fill="#000" textLength="8.20" lengthAdjust="spacingAndGlyphs" >0</text>
<text x="402.70" y="517.40" font-family='"Liberation Sans", sans-serif' font-size="10.2" font-weight="bold" text-anchor="start" fill="#000" textLength="18.20" lengthAdjust="spacingAndGlyphs" >28</text>
<text x="450.50" y="517.40" font-family='"Liberation Sans", sans-serif' font-size="10.2" font-weight="bold" text-anchor="start" fill="#000" textLength="18.00" lengthAdjust="spacingAndGlyphs" >35</text>
<text x="497.05" y="517.40" font-family='"Liberation Sans", sans-serif' font-size="10.2" font-weight="bold" text-anchor="start" fill="#000" textLength="18.50" lengthAdjust="spacingAndGlyphs" >42</text>
<text x="545.15" y="517.40" font-family='"Liberation Sans", sans-serif' font-size="10.2" font-weight="bold" text-anchor="start" fill="#000" textLength="18.10" lengthAdjust="spacingAndGlyphs" >50</text>
<text x="162.00" y="540.50" font-family='"Liberation Sans", sans-serif' font-size="14.2" font-weight="bold" text-anchor="start" fill="#000" textLength="29.40" lengthAdjust="spacingAndGlyphs" >PPE</text>
<text x="402.20" y="536.50" font-family='"Liberation Sans", sans-serif' font-size="10.8" font-weight="bold" text-anchor="start" fill="#000" textLength="79.20" lengthAdjust="spacingAndGlyphs" >Quail Egg</text>
<text x="593.80" y="508.70" font-family='"Liberation Sans", sans-serif' font-size="10.6" font-weight="bold" text-anchor="start" fill="#000" textLength="19.80" lengthAdjust="spacingAndGlyphs" >Day</text>
<text transform="translate(25.00,436.00) rotate(-90)" font-family='"Liberation Sans", sans-serif' font-size="17.4" font-weight="bold" fill="#000" textLength="93.60" lengthAdjust="spacingAndGlyphs">IgG1 (450 nm OD)</text>
<text transform="translate(121.80,320.50) scale(1.14,0.88)" y="0.47" font-family='"Liberation Sans", sans-serif' font-size="12.5" text-anchor="middle" fill="#333" dy="6.25">*</text>
<text transform="translate(132.00,319.10) scale(1.14,0.88)" y="0.47" font-family='"Liberation Sans", sans-serif' font-size="12.5" text-anchor="middle" fill="#333" dy="6.25">*</text>
<text transform="translate(168.80,324.90) scale(1.14,0.88)" y="0.47" font-family='"Liberation Sans", sans-serif' font-size="12.5" text-anchor="middle" fill="#333" dy="6.25">*</text>
<text transform="translate(179.30,333.90) scale(1.14,0.88)" y="0.47" font-family='"Liberation Sans", sans-serif' font-size="12.5" text-anchor="middle" fill="#333" dy="6.25">*</text>
<text transform="translate(216.40,327.30) scale(1.14,0.88)" y="0.47" font-family='"Liberation Sans", sans-serif' font-size="12.5" text-anchor="middle" fill="#333" dy="6.25">*</text>
<text transform="translate(226.60,363.90) scale(1.14,0.88)" y="0.47" font-family='"Liberation Sans", sans-serif' font-size="12.5" text-anchor="middle" fill="#333" dy="6.25">*</text>
<polyline points="215.50,322.50 215.50,311.00 229.40,311.00 229.40,355.00" fill="none" stroke="#1a1a1a" stroke-width="1.0"/>
<text transform="translate(222.90,308.77) scale(1.3,1)" font-family='"Liberation Serif", serif' font-size="7.6" font-style="italic" text-anchor="middle" fill="#1a1a1a">#</text>
<text transform="translate(263.60,331.30) scale(1.14,0.88)" y="0.47" font-family='"Liberation Sans", sans-serif' font-size="12.5" text-anchor="middle" fill="#333" dy="6.25">*</text>
<text transform="translate(274.30,358.70) scale(1.14,0.88)" y="0.47" font-family='"Liberation Sans", sans-serif' font-size="12.5" text-anchor="middle" fill="#333" dy="6.25">*</text>
<polyline points="264.50,327.60 264.50,317.90 275.20,317.90 275.20,352.40" fill="none" stroke="#1a1a1a" stroke-width="1.0"/>
<text transform="translate(270.10,314.37) scale(1.3,1)" font-family='"Liberation Serif", serif' font-size="7.6" font-style="italic" text-anchor="middle" fill="#1a1a1a">#</text>
<text transform="translate(416.70,462.30) scale(1.14,0.88)" y="0.47" font-family='"Liberation Sans", sans-serif' font-size="12.5" text-anchor="middle" fill="#333" dy="6.25">*</text>
<text transform="translate(464.30,456.10) scale(1.14,0.88)" y="0.47" font-family='"Liberation Sans", sans-serif' font-size="12.5" text-anchor="middle" fill="#333" dy="6.25">*</text>
<text transform="translate(511.20,467.50) scale(1.14,0.88)" y="0.47" font-family='"Liberation Sans", sans-serif' font-size="12.5" text-anchor="middle" fill="#333" dy="6.25">*</text>
<text transform="translate(559.30,462.60) scale(1.14,0.88)" y="0.47" font-family='"Liberation Sans", sans-serif' font-size="12.5" text-anchor="middle" fill="#333" dy="6.25">*</text>
<line x1="48.80" y1="599.30" x2="48.80" y2="608.20" stroke="#000" stroke-width="1.7"/>
<line x1="41.50" y1="599.90" x2="55.70" y2="599.90" stroke="#000" stroke-width="1.7"/>
<rect x="35.00" y="608.50" width="27.60" height="47.10" fill="#fff" stroke="#000" stroke-width="1.8"/>
<line x1="89.90" y1="572.50" x2="89.90" y2="579.00" stroke="#000" stroke-width="1.7"/>
<line x1="82.60" y1="573.10" x2="97.10" y2="573.10" stroke="#000" stroke-width="1.7"/>
<rect x="76.40" y="579.30" width="27.00" height="76.30" fill="#000" stroke="#000" stroke-width="1.8"/>
<line x1="130.60" y1="592.80" x2="130.60" y2="599.40" stroke="#000" stroke-width="1.7"/>
<line x1="123.50" y1="593.40" x2="138.10" y2="593.40" stroke="#000" stroke-width="1.7"/>
<rect x="117.10" y="599.70" width="27.00" height="55.90" fill="#b2b2b2" stroke="#000" stroke-width="1.8"/>
<line x1="172.60" y1="607.20" x2="172.60" y2="615.70" stroke="#000" stroke-width="1.7"/>
<line x1="164.70" y1="607.80" x2="178.90" y2="607.80" stroke="#000" stroke-width="1.7"/>
<rect x="159.20" y="616.00" width="26.80" height="39.60" fill="#9c9c9c" stroke="#000" stroke-width="1.8"/>
<rect x="27.40" y="555.60" width="1.90" height="101.00" fill="#000"/>
<rect x="27.40" y="654.80" width="165.60" height="2.00" fill="#000"/>
<rect x="25.60" y="555.70" width="2.30" height="1.40" fill="#000"/>
<text x="25.50" y="558.75" font-family='"Liberation Sans", sans-serif' font-size="6.5" font-weight="bold" text-anchor="end" fill="#000" >300</text>
<rect x="25.60" y="588.90" width="2.30" height="1.40" fill="#000"/>
<text x="25.50" y="591.95" font-family='"Liberation Sans", sans-serif' font-size="6.5" font-weight="bold" text-anchor="end" fill="#000" >200</text>
<rect x="25.60" y="622.10" width="2.30" height="1.40" fill="#000"/>
<text x="25.50" y="625.15" font-family='"Liberation Sans", sans-serif' font-size="6.5" font-weight="bold" text-anchor="end" fill="#000" >100</text>
<rect x="25.60" y="654.90" width="2.30" height="1.40" fill="#000"/>
<text x="25.50" y="657.95" font-family='"Liberation Sans", sans-serif' font-size="6.5" font-weight="bold" text-anchor="end" fill="#000" >0</text>
<rect x="48.00" y="656.60" width="1.60" height="1.80" fill="#000"/>
<text x="48.40" y="663.90" font-family='"Liberation Sans", sans-serif' font-size="6.6" font-weight="bold" text-anchor="middle" fill="#000" >C</text>
<rect x="89.10" y="656.60" width="1.60" height="1.80" fill="#000"/>
<text x="89.90" y="663.90" font-family='"Liberation Sans", sans-serif' font-size="6.6" font-weight="bold" text-anchor="middle" fill="#000" >P</text>
<rect x="129.80" y="656.60" width="1.60" height="1.80" fill="#000"/>
<text x="131.10" y="663.90" font-family='"Liberation Sans", sans-serif' font-size="6.6" font-weight="bold" text-anchor="middle" fill="#000" >P+Q</text>
<rect x="171.80" y="656.60" width="1.60" height="1.80" fill="#000"/>
<text x="172.00" y="663.90" font-family='"Liberation Sans", sans-serif' font-size="6.6" font-weight="bold" text-anchor="middle" fill="#000" >Q</text>
<polyline points="89.50,561.60 89.50,556.90 129.80,556.90 129.80,581.50" fill="none" stroke="#2a2a2a" stroke-width="0.95"/>
<text x="110.60" y="555.40" font-family='"Liberation Sans", sans-serif' font-size="5.4" font-weight="bold" text-anchor="middle" fill="#333" >#</text>
<text x="89.50" y="572.27" font-family='"Liberation Sans", sans-serif' font-size="8.5" font-weight="normal" text-anchor="middle" fill="#666" >*</text>
<text x="130.30" y="590.27" font-family='"Liberation Sans", sans-serif' font-size="8.5" font-weight="normal" text-anchor="middle" fill="#666" >*</text>
<text transform="translate(8.40,634.00) rotate(-90)" font-family='"Liberation Sans", sans-serif' font-size="6.6" font-weight="bold" fill="#111" textLength="59.00" lengthAdjust="spacingAndGlyphs">Histamine (pg/mL)</text>
<line x1="265.85" y1="612.10" x2="265.85" y2="616.80" stroke="#000" stroke-width="1.7"/>
<line x1="258.10" y1="612.70" x2="274.00" y2="612.70" stroke="#000" stroke-width="1.7"/>
<rect x="252.50" y="617.10" width="26.70" height="39.30" fill="#fff" stroke="#000" stroke-width="1.8"/>
<line x1="306.45" y1="577.30" x2="306.45" y2="585.10" stroke="#000" stroke-width="1.7"/>
<line x1="298.40" y1="577.90" x2="314.50" y2="577.90" stroke="#000" stroke-width="1.7"/>
<rect x="293.30" y="585.40" width="26.30" height="71.00" fill="#000" stroke="#000" stroke-width="1.8"/>
<line x1="347.15" y1="599.60" x2="347.15" y2="604.40" stroke="#000" stroke-width="1.7"/>
<line x1="338.60" y1="600.20" x2="355.00" y2="600.20" stroke="#000" stroke-width="1.7"/>
<rect x="334.10" y="604.70" width="26.10" height="51.70" fill="#b2b2b2" stroke="#000" stroke-width="1.8"/>
<line x1="387.45" y1="610.80" x2="387.45" y2="614.40" stroke="#000" stroke-width="1.7"/>
<line x1="379.20" y1="611.40" x2="395.60" y2="611.40" stroke="#000" stroke-width="1.7"/>
<rect x="374.20" y="614.70" width="26.50" height="41.70" fill="#9c9c9c" stroke="#000" stroke-width="1.8"/>
<rect x="244.70" y="558.40" width="1.90" height="99.00" fill="#000"/>
<rect x="244.70" y="655.60" width="164.00" height="2.00" fill="#000"/>
<rect x="242.90" y="558.50" width="2.30" height="1.40" fill="#000"/>
<text x="242.80" y="561.55" font-family='"Liberation Sans", sans-serif' font-size="6.5" font-weight="bold" text-anchor="end" fill="#000" >1500</text>
<rect x="242.90" y="590.80" width="2.30" height="1.40" fill="#000"/>
<text x="242.80" y="593.85" font-family='"Liberation Sans", sans-serif' font-size="6.5" font-weight="bold" text-anchor="end" fill="#000" >1000</text>
<rect x="242.90" y="623.30" width="2.30" height="1.40" fill="#000"/>
<text x="242.80" y="626.35" font-family='"Liberation Sans", sans-serif' font-size="6.5" font-weight="bold" text-anchor="end" fill="#000" >500</text>
<rect x="242.90" y="655.70" width="2.30" height="1.40" fill="#000"/>
<text x="242.80" y="658.75" font-family='"Liberation Sans", sans-serif' font-size="6.5" font-weight="bold" text-anchor="end" fill="#000" >0</text>
<rect x="265.05" y="657.40" width="1.60" height="1.80" fill="#000"/>
<text x="265.70" y="664.70" font-family='"Liberation Sans", sans-serif' font-size="6.6" font-weight="bold" text-anchor="middle" fill="#000" >C</text>
<rect x="305.65" y="657.40" width="1.60" height="1.80" fill="#000"/>
<text x="306.20" y="664.70" font-family='"Liberation Sans", sans-serif' font-size="6.6" font-weight="bold" text-anchor="middle" fill="#000" >P</text>
<rect x="346.35" y="657.40" width="1.60" height="1.80" fill="#000"/>
<text x="347.10" y="664.70" font-family='"Liberation Sans", sans-serif' font-size="6.6" font-weight="bold" text-anchor="middle" fill="#000" >P+Q</text>
<rect x="386.65" y="657.40" width="1.60" height="1.80" fill="#000"/>
<text x="387.60" y="664.70" font-family='"Liberation Sans", sans-serif' font-size="6.6" font-weight="bold" text-anchor="middle" fill="#000" >Q</text>
<polyline points="306.80,570.20 306.80,563.80 346.20,563.80 346.20,593.10" fill="none" stroke="#2a2a2a" stroke-width="0.95"/>
<text x="326.50" y="561.30" font-family='"Liberation Sans", sans-serif' font-size="5.4" font-weight="bold" text-anchor="middle" fill="#333" >#</text>
<text x="306.80" y="577.57" font-family='"Liberation Sans", sans-serif' font-size="8.5" font-weight="normal" text-anchor="middle" fill="#666" >*</text>
<text x="346.70" y="600.27" font-family='"Liberation Sans", sans-serif' font-size="8.5" font-weight="normal" text-anchor="middle" fill="#666" >*</text>
<text transform="translate(222.20,633.20) rotate(-90)" font-family='"Liberation Sans", sans-serif' font-size="6.6" font-weight="bold" fill="#111" textLength="54.60" lengthAdjust="spacingAndGlyphs">Tryptase (pg/mL)</text>
<line x1="480.85" y1="618.60" x2="480.85" y2="625.80" stroke="#000" stroke-width="1.7"/>
<line x1="473.10" y1="619.20" x2="489.00" y2="619.20" stroke="#000" stroke-width="1.7"/>
<rect x="467.50" y="626.10" width="26.70" height="30.70" fill="#fff" stroke="#000" stroke-width="1.8"/>
<line x1="521.45" y1="592.70" x2="521.45" y2="596.00" stroke="#000" stroke-width="1.7"/>
<line x1="513.40" y1="593.30" x2="529.50" y2="593.30" stroke="#000" stroke-width="1.7"/>
<rect x="508.30" y="596.30" width="26.30" height="60.50" fill="#000" stroke="#000" stroke-width="1.8"/>
<line x1="562.15" y1="602.20" x2="562.15" y2="612.20" stroke="#000" stroke-width="1.7"/>
<line x1="553.60" y1="602.80" x2="570.00" y2="602.80" stroke="#000" stroke-width="1.7"/>
<rect x="549.10" y="612.50" width="26.10" height="44.30" fill="#b2b2b2" stroke="#000" stroke-width="1.8"/>
<line x1="602.45" y1="610.20" x2="602.45" y2="619.30" stroke="#000" stroke-width="1.7"/>
<line x1="594.20" y1="610.80" x2="610.60" y2="610.80" stroke="#000" stroke-width="1.7"/>
<rect x="589.20" y="619.60" width="26.50" height="37.20" fill="#9c9c9c" stroke="#000" stroke-width="1.8"/>
<rect x="459.70" y="557.80" width="1.90" height="100.00" fill="#000"/>
<rect x="459.70" y="656.00" width="164.00" height="2.00" fill="#000"/>
<rect x="457.90" y="558.10" width="2.30" height="1.40" fill="#000"/>
<text x="457.80" y="561.15" font-family='"Liberation Sans", sans-serif' font-size="6.5" font-weight="bold" text-anchor="end" fill="#000" >1500</text>
<rect x="457.90" y="590.70" width="2.30" height="1.40" fill="#000"/>
<text x="457.80" y="593.75" font-family='"Liberation Sans", sans-serif' font-size="6.5" font-weight="bold" text-anchor="end" fill="#000" >1000</text>
<rect x="457.90" y="623.50" width="2.30" height="1.40" fill="#000"/>
<text x="457.80" y="626.55" font-family='"Liberation Sans", sans-serif' font-size="6.5" font-weight="bold" text-anchor="end" fill="#000" >500</text>
<rect x="457.90" y="656.10" width="2.30" height="1.40" fill="#000"/>
<text x="457.80" y="659.15" font-family='"Liberation Sans", sans-serif' font-size="6.5" font-weight="bold" text-anchor="end" fill="#000" >0</text>
<rect x="480.05" y="657.80" width="1.60" height="1.80" fill="#000"/>
<text x="480.60" y="665.10" font-family='"Liberation Sans", sans-serif' font-size="6.6" font-weight="bold" text-anchor="middle" fill="#000" >C</text>
<rect x="520.65" y="657.80" width="1.60" height="1.80" fill="#000"/>
<text x="521.20" y="665.10" font-family='"Liberation Sans", sans-serif' font-size="6.6" font-weight="bold" text-anchor="middle" fill="#000" >P</text>
<rect x="561.35" y="657.80" width="1.60" height="1.80" fill="#000"/>
<text x="562.10" y="665.10" font-family='"Liberation Sans", sans-serif' font-size="6.6" font-weight="bold" text-anchor="middle" fill="#000" >P+Q</text>
<rect x="601.65" y="657.80" width="1.60" height="1.80" fill="#000"/>
<text x="602.60" y="665.10" font-family='"Liberation Sans", sans-serif' font-size="6.6" font-weight="bold" text-anchor="middle" fill="#000" >Q</text>
<polyline points="521.40,583.80 521.40,577.40 561.70,577.40 561.70,593.80" fill="none" stroke="#2a2a2a" stroke-width="0.95"/>
<text x="541.70" y="575.20" font-family='"Liberation Sans", sans-serif' font-size="5.4" font-weight="bold" text-anchor="middle" fill="#333" >#</text>
<text x="521.40" y="592.07" font-family='"Liberation Sans", sans-serif' font-size="8.5" font-weight="normal" text-anchor="middle" fill="#666" >*</text>
<text x="562.20" y="603.07" font-family='"Liberation Sans", sans-serif' font-size="8.5" font-weight="normal" text-anchor="middle" fill="#666" >*</text>
<text transform="translate(437.20,626.20) rotate(-90)" font-family='"Liberation Sans", sans-serif' font-size="6.6" font-weight="bold" fill="#111" textLength="40.20" lengthAdjust="spacingAndGlyphs">ECP (pg/mL)</text>
<rect x="60.00" y="667.90" width="61.80" height="1.00" fill="#e4e4e4"/>
<rect x="163.00" y="667.90" width="7.60" height="1.00" fill="#eaeaea"/>
</svg>
</body></html>
